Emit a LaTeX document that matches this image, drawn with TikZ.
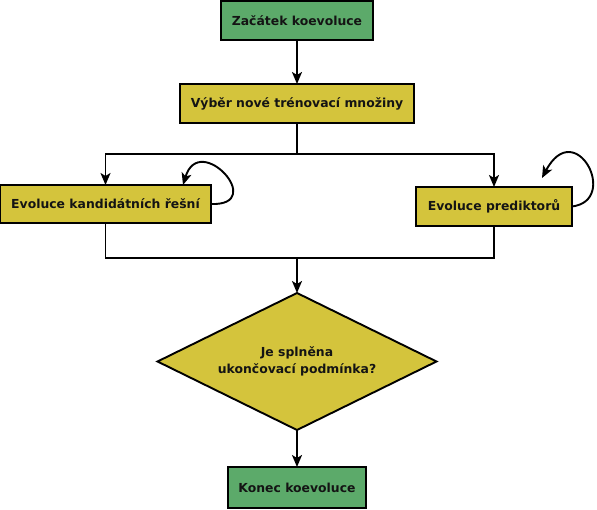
\documentclass[tikz,border=0pt]{standalone}
\usepackage{fontspec}
\setmainfont{DejaVu Sans}
\usetikzlibrary{positioning,arrows.meta,shapes.geometric,calc}
\definecolor{startgreen}{RGB}{92,170,106}
\definecolor{procyellow}{RGB}{212,196,60}
\definecolor{ink}{HTML}{141414}
\tikzset{
  blk/.style={draw=black, fill=#1, line width=1.9pt, align=center, text=ink,
    font=\fontsize{12.4}{17}\selectfont\bfseries, inner sep=3pt, outer sep=0pt},
  termbox/.style={blk=startgreen},
  procbox/.style={blk=procyellow},
  decbox/.style={blk=procyellow, diamond, aspect=2.04},
  arr/.style={-{Stealth[length=12pt,width=10pt,inset=3pt]}, line width=1.9pt},
  ln/.style={line width=1.9pt},
}
\begin{document}
\begin{tikzpicture}[x=1pt, y=1pt, node distance=44pt and 20pt]
  \useasboundingbox (0,0) rectangle (597,-510);
  \node[termbox, minimum width=152pt, minimum height=39pt] (start) at (297,-20.5) {Začátek koevoluce};
  \node[procbox, below=44pt of start, minimum width=234pt, minimum height=39pt] (sel) {Výběr nové trénovací množiny};
  \node[procbox, minimum width=211pt, minimum height=38pt] (cand) at (105.5,-204) {Evoluce kandidátních řešní};
  \node[procbox, minimum width=156pt, minimum height=39pt] (pred) at (494,-206.5) {Evoluce prediktorů};
  \coordinate (join) at (297,-258);
  \node[decbox, minimum width=279pt, minimum height=137pt] (dec) at (297,-361.5) {Je splněna\\ukončovací podmínka?};
  \node[termbox, below=37pt of dec, minimum width=138pt, minimum height=41pt] (stop) {Konec koevoluce};
  % split and join
  \draw[arr] (start) -- (sel);
  \draw[arr] (sel.south) -- ++(0,-31) -| (cand.north);
  \draw[arr] (sel.south) -- ++(0,-31) -| (pred.north);
  \draw[ln] (cand.south) |- (join) -| (pred.south);
  \draw[arr] (join) -- (dec.north);
  \draw[arr] (dec.south) -- (stop.north);
  % self loops
  \coordinate (cloop) at ($(cand.north east)+(-28,0)$);
  \coordinate (ploop) at ($(pred.north east)+(-30,9)$);
  \draw[arr] (cand.east) to[out=-2, in=73, looseness=4.3] (cloop);
  \draw[arr] (pred.east) to[out=7, in=62, out looseness=3, in looseness=4.4] (ploop);
\end{tikzpicture}
\end{document}
